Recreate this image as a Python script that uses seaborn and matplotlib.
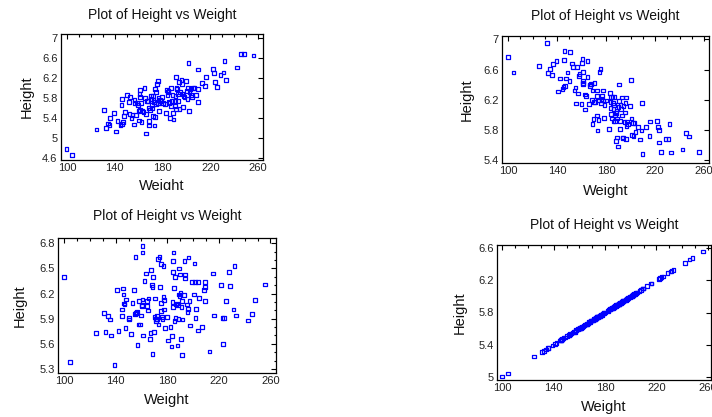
import numpy as np
import pandas as pd
import seaborn as sns
import matplotlib
matplotlib.use("Agg")
import matplotlib.pyplot as plt
from matplotlib.ticker import FixedLocator, MultipleLocator, FuncFormatter
from matplotlib.patches import Rectangle

# ---------------- data ----------------
weight_a = [99.7, 104.4, 124.8, 131.0, 132.4, 134.1, 136.0, 135.5, 139.1, 140.8,
            142.2, 144.7, 145.8, 145.5, 146.1, 146.6, 147.7, 148.6, 150.5, 151.9,
            152.2, 152.5, 153.9, 154.7, 155.8, 156.4, 156.9, 157.5, 158.6, 159.2,
            159.8, 160.0, 160.6, 160.9, 160.9, 161.1, 161.7, 162.3, 163.1, 163.9,
            164.8, 165.1, 165.9, 166.2, 167.0, 167.6, 168.1, 168.7, 168.7, 169.5,
            170.1, 170.4, 170.9, 171.5, 171.8, 172.0, 172.3, 172.9, 173.2, 173.7,
            173.7, 174.3, 174.6, 175.1, 176.0, 176.2, 176.5, 177.1, 177.4, 177.9,
            178.8, 179.3, 180.2, 182.1, 182.7, 183.5, 184.1, 184.3, 184.9, 185.5,
            185.7, 186.3, 186.9, 187.1, 187.7, 188.3, 188.5, 189.1, 189.9, 190.5,
            190.8, 191.0, 191.3, 191.6, 192.2, 192.7, 193.3, 193.8, 194.1, 194.7,
            195.8, 196.1, 196.6, 196.9, 197.5, 198.3, 199.4, 200.3, 200.8, 201.1,
            201.7, 201.9, 202.5, 203.3, 203.9, 204.5, 205.3, 206.7, 208.1, 209.5,
            209.5, 209.5, 212.8, 215.6, 216.2, 222.1, 222.9, 224.0, 225.4, 228.5,
            231.0, 231.8, 233.2, 242.2, 245.8, 248.0, 256.1]
height_a = [4.78, 4.66, 5.17, 5.56, 5.20, 5.29, 5.40, 5.26, 5.50, 5.13,
            5.34, 5.26, 5.28, 5.65, 5.77, 5.32, 5.44, 5.51, 5.85, 5.72,
            5.47, 5.82, 5.39, 5.46, 5.27, 5.75, 5.70, 5.45, 5.70, 5.66,
            5.54, 5.35, 5.87, 5.95, 5.81, 5.56, 5.69, 5.32, 5.54, 5.52,
            6.00, 5.79, 5.09, 5.48, 5.74, 5.74, 5.60, 5.25, 5.34, 5.56,
            5.78, 5.83, 5.65, 5.59, 5.84, 5.44, 5.75, 5.71, 5.25, 5.42,
            5.97, 5.67, 5.91, 6.07, 6.13, 5.69, 5.79, 5.54, 5.69, 5.76,
            5.74, 5.81, 5.69, 5.67, 5.49, 5.96, 5.85, 5.91, 5.93, 5.71,
            5.69, 5.40, 5.63, 6.00, 5.73, 5.86, 5.49, 5.37, 5.73, 5.63,
            5.83, 6.22, 5.57, 6.00, 5.97, 5.87, 5.73, 6.11, 5.57, 5.91,
            6.16, 6.08, 5.87, 5.62, 5.84, 5.81, 6.13, 5.94, 5.77, 6.00,
            6.49, 5.53, 5.91, 5.97, 5.85, 5.81, 6.00, 5.99, 5.85, 5.97,
            5.71, 6.36, 6.10, 6.03, 6.22, 6.37, 6.29, 6.11, 6.02, 6.25,
            6.30, 6.53, 6.16, 6.40, 6.67, 6.67, 6.64]

weight_b = [100.0, 104.3, 125.0, 131.5, 132.6, 134.0, 135.9, 136.7, 139.4, 140.8,
            142.1, 144.3, 145.1, 145.6, 145.9, 146.2, 147.5, 148.4, 150.0, 150.5,
            152.2, 153.0, 154.3, 154.9, 155.4, 156.5, 157.1, 157.6, 158.4, 159.8,
            160.3, 160.6, 160.9, 161.1, 161.4, 161.4, 162.5, 163.0, 163.6, 164.7,
            164.7, 165.8, 166.6, 167.1, 167.7, 168.5, 169.0, 169.0, 169.6, 170.1,
            170.6, 171.2, 172.3, 172.5, 172.8, 173.1, 173.4, 173.9, 174.7, 175.3,
            176.1, 176.3, 176.9, 177.4, 177.7, 178.0, 178.8, 180.4, 182.6, 183.1,
            183.7, 183.7, 183.9, 184.2, 184.8, 185.3, 185.6, 185.9, 186.1, 186.4,
            186.9, 187.2, 187.5, 187.8, 188.3, 188.6, 188.8, 189.1, 189.7, 190.2,
            190.5, 190.7, 191.3, 191.6, 191.8, 192.4, 192.9, 193.2, 193.5, 193.7,
            194.3, 195.1, 195.6, 195.9, 196.2, 196.5, 196.7, 197.3, 198.1, 199.7,
            200.5, 200.8, 201.1, 201.9, 202.4, 203.2, 204.1, 206.0, 207.9, 209.0,
            209.2, 209.8, 212.5, 215.5, 216.0, 221.7, 222.5, 223.4, 223.4, 225.0,
            228.5, 231.0, 231.8, 232.9, 242.4, 245.4, 247.8, 256.0]
height_b = [6.77, 6.56, 6.65, 6.95, 6.55, 6.61, 6.53, 6.67, 6.71, 6.31,
            6.48, 6.34, 6.37, 6.73, 6.85, 6.38, 6.48, 6.56, 6.45, 6.83,
            6.68, 6.63, 6.32, 6.36, 6.15, 6.63, 6.28, 6.51, 6.54, 6.14,
            6.69, 6.74, 6.57, 6.45, 6.42, 6.41, 6.07, 6.27, 6.25, 6.71,
            6.50, 6.14, 6.40, 6.38, 6.41, 6.20, 6.32, 5.88, 5.94, 6.17,
            6.42, 6.17, 5.99, 6.32, 6.25, 5.79, 6.19, 5.93, 6.57, 6.61,
            6.15, 6.21, 6.25, 6.32, 6.19, 5.96, 6.13, 6.19, 5.81, 6.29,
            6.17, 6.09, 6.24, 6.01, 5.95, 6.24, 6.16, 6.08, 5.91, 6.13,
            6.24, 5.99, 5.92, 5.65, 6.02, 6.05, 5.70, 5.95, 5.58, 6.10,
            6.40, 6.18, 5.81, 5.92, 6.13, 6.08, 5.99, 6.23, 5.70, 5.69,
            6.12, 5.90, 6.03, 6.16, 6.23, 5.68, 5.85, 5.91, 5.88, 6.12,
            6.46, 5.95, 5.73, 5.89, 5.72, 5.89, 5.77, 5.84, 5.67, 5.79,
            6.16, 5.48, 5.84, 5.72, 5.91, 5.92, 5.84, 5.63, 5.80, 5.51,
            5.68, 5.68, 5.88, 5.50, 5.54, 5.76, 5.71, 5.51]

weight_c = [100.0, 104.4, 125.0, 132.2, 133.8, 135.6, 136.4, 131.2, 140.8, 142.1,
            144.7, 145.0, 145.8, 146.0, 146.3, 146.8, 147.6, 148.1, 150.2, 150.4,
            152.0, 153.0, 154.1, 155.4, 155.1, 155.9, 156.4, 156.9, 157.7, 158.2,
            159.0, 159.8, 160.3, 160.3, 160.8, 160.8, 160.8, 161.4, 162.4, 163.4,
            164.2, 164.5, 165.0, 165.5, 166.8, 167.1, 167.6, 168.1, 168.6, 168.6,
            169.2, 169.9, 170.2, 170.7, 171.2, 171.2, 172.0, 172.3, 172.8, 173.3,
            174.1, 174.6, 174.9, 175.1, 175.4, 175.9, 176.2, 177.0, 177.2, 177.5,
            177.7, 178.0, 179.8, 180.6, 182.4, 183.2, 183.7, 184.0, 184.2, 184.2,
            184.5, 184.8, 185.3, 185.5, 185.8, 186.3, 186.8, 187.4, 187.9, 188.1,
            188.7, 188.9, 189.2, 189.4, 190.0, 190.2, 190.7, 191.0, 191.3, 191.5,
            191.8, 193.1, 193.3, 193.6, 193.6, 195.4, 195.7, 196.2, 196.5, 197.2,
            197.8, 199.3, 200.6, 201.1, 201.4, 201.9, 202.4, 204.0, 204.0, 204.5,
            207.1, 208.4, 209.2, 209.2, 209.5, 212.8, 215.7, 216.2, 221.9, 222.7,
            223.2, 224.0, 225.6, 227.9, 228.4, 231.3, 232.1, 233.1, 242.5, 245.6,
            247.9, 256.0, 139.0]
height_c = [6.40, 5.38, 5.73, 5.74, 5.93, 5.89, 5.70, 5.97, 6.24, 5.75,
            5.93, 6.01, 6.26, 6.19, 6.08, 6.07, 5.79, 6.13, 5.91, 5.89,
            5.72, 6.09, 6.24, 6.64, 5.96, 5.97, 5.98, 5.59, 5.83, 6.11,
            5.83, 5.94, 6.06, 6.05, 6.69, 6.77, 6.13, 5.70, 6.35, 6.44,
            6.11, 6.05, 6.00, 6.14, 5.66, 5.73, 6.48, 6.30, 6.28, 5.48,
            6.40, 5.74, 5.92, 6.14, 5.90, 5.87, 5.89, 5.94, 6.61, 5.83,
            6.64, 6.28, 6.09, 5.99, 6.55, 5.92, 5.90, 6.53, 6.16, 6.01,
            6.12, 5.79, 5.92, 5.64, 5.80, 5.57, 5.69, 6.10, 6.04, 6.59,
            6.46, 6.69, 6.27, 5.87, 6.40, 5.91, 6.07, 6.08, 5.58, 6.06,
            5.90, 6.19, 6.50, 6.17, 6.43, 6.21, 5.66, 6.04, 6.11, 5.47,
            5.89, 6.18, 6.59, 6.43, 6.38, 6.07, 5.98, 6.02, 6.63, 6.11,
            5.82, 6.34, 6.19, 6.56, 6.34, 5.91, 6.02, 5.76, 6.34, 6.15,
            5.80, 6.24, 6.34, 6.28, 6.11, 5.51, 6.44, 5.94, 6.30, 5.91,
            5.60, 5.91, 6.11, 6.46, 6.29, 6.01, 6.53, 5.94, 5.88, 5.96,
            6.12, 6.31, 5.35]

weight_d = weight_a
height_d = [5.00, 5.04, 5.25, 5.31, 5.32, 5.34, 5.36, 5.36, 5.39, 5.41,
            5.42, 5.45, 5.46, 5.46, 5.46, 5.47, 5.48, 5.49, 5.51, 5.52,
            5.52, 5.53, 5.54, 5.55, 5.56, 5.56, 5.57, 5.58, 5.59, 5.59,
            5.60, 5.60, 5.61, 5.61, 5.61, 5.61, 5.62, 5.62, 5.63, 5.64,
            5.65, 5.65, 5.66, 5.66, 5.67, 5.68, 5.68, 5.69, 5.69, 5.70,
            5.70, 5.70, 5.71, 5.72, 5.72, 5.72, 5.72, 5.73, 5.73, 5.74,
            5.74, 5.74, 5.75, 5.75, 5.76, 5.76, 5.77, 5.77, 5.77, 5.78,
            5.79, 5.79, 5.80, 5.82, 5.83, 5.84, 5.84, 5.84, 5.85, 5.86,
            5.86, 5.86, 5.87, 5.87, 5.88, 5.88, 5.89, 5.89, 5.90, 5.91,
            5.91, 5.91, 5.91, 5.92, 5.92, 5.93, 5.93, 5.94, 5.94, 5.95,
            5.96, 5.96, 5.97, 5.97, 5.98, 5.98, 5.99, 6.00, 6.01, 6.01,
            6.02, 6.02, 6.03, 6.03, 6.04, 6.05, 6.05, 6.07, 6.08, 6.10,
            6.10, 6.10, 6.13, 6.16, 6.16, 6.22, 6.23, 6.24, 6.25, 6.29,
            6.31, 6.32, 6.33, 6.42, 6.46, 6.48, 6.56]

x_ticks = [100, 140, 180, 220, 260]
y_ticks_a = [4.6, 5.0, 5.4, 5.8, 6.2, 6.6, 7.0]
y_ticks_b = [5.4, 5.8, 6.2, 6.6, 7.0]
y_ticks_c = [5.3, 5.6, 5.9, 6.2, 6.5, 6.8]
y_ticks_d = [5.0, 5.4, 5.8, 6.2, 6.6]

title_text = "Plot of Height vs Weight"
x_label = "Weight"
y_label = "Height"

# ---------------- styling ----------------
sns.set_style("white")
plt.rcParams["font.family"] = ["Liberation Sans", "DejaVu Sans"]

W, H = 712, 417
fig = plt.figure(figsize=(W / 100, H / 100), dpi=100)


def px_axes(left, top, right, bottom):
    return fig.add_axes([left / W, 1 - bottom / H, (right - left) / W, (bottom - top) / H])


panels = [
    # (box px), xlim, ylim, yticks, yminor, data
    ((61, 34, 263, 160), (95.0, 264.0), (4.56, 7.07), y_ticks_a, None, weight_a, height_a),
    ((502, 36, 709, 163), (95.0, 264.0), (5.36, 7.045), y_ticks_b, None, weight_b, height_b),
    ((58, 238, 276, 373), (95.3, 264.3), (5.252, 6.864), y_ticks_c, 0.1, weight_c, height_c),
    ((497, 245, 711, 380), (95.8, 262.5), (4.958, 6.642), y_ticks_d, None, weight_d, height_d),
]

fmt = FuncFormatter(lambda v, p: "%g" % round(v, 3))
axes = []
for (box, xlim, ylim, yt, ymin_step, xs, ys) in panels:
    ax = px_axes(*box)
    df = pd.DataFrame({"Weight": xs, "Height": ys})
    sns.scatterplot(data=df, x="Weight", y="Height", ax=ax, marker="s", s=7,
                    color="#0000ff", facecolor="none", edgecolor="#0000ff",
                    linewidth=0.9, legend=False, zorder=3)
    ax.set_xlim(*xlim)
    ax.set_ylim(*ylim)
    ax.xaxis.set_major_locator(FixedLocator(x_ticks))
    ax.xaxis.set_minor_locator(MultipleLocator(10))
    ax.yaxis.set_major_locator(FixedLocator(yt))
    if ymin_step:
        ax.yaxis.set_minor_locator(MultipleLocator(ymin_step))
    ax.xaxis.set_major_formatter(fmt)
    ax.yaxis.set_major_formatter(fmt)
    ax.tick_params(which="both", direction="in", top=True, right=True,
                   color="black", width=0.8)
    ax.tick_params(which="major", length=3.5, labelsize=8, labelcolor="#222222", pad=2.5)
    ax.tick_params(which="minor", length=1.8)
    for sp in ax.spines.values():
        sp.set_visible(True)
        sp.set_color("black")
        sp.set_linewidth(0.9)
    ax.set_facecolor("white")
    axes.append(ax)

# titles and labels (title centre offsets above the box, in pixels)
title_gap = [19, 20, 22, 20]
for ax, (box, *_), gap in zip(axes, panels, title_gap):
    l, t, r, b = box
    hpx = b - t
    ax.set_title(title_text, fontsize=10, color="#111111", y=1 + gap / hpx,
                 va="center", pad=0)
    ax.set_xlabel(x_label, fontsize=10.5, color="#111111")
    ax.set_ylabel(y_label, fontsize=10.5, color="#111111")

xl_top = [179, 184, 393, 400]
yl_center = [27, 467, 20, 460]
for ax, (box, *_), xt, yc in zip(axes, panels, xl_top, yl_center):
    l, t, r, b = box
    ax.xaxis.set_label_coords(0.5, -(xt - b) / (b - t))
    ax.yaxis.label.set_va("center")
    ax.yaxis.set_label_coords((yc - l) / (r - l), 0.5)

# the reference crops the first panel's x label at its image border:
# a white band over the lower part of that label reproduces the cut
fig.add_artist(Rectangle((100 / W, 1 - 199 / H), 130 / W, 9 / H,
                         transform=fig.transFigure, facecolor="white",
                         edgecolor="none", zorder=10))

fig.savefig("out.png", dpi=100, facecolor="white")
